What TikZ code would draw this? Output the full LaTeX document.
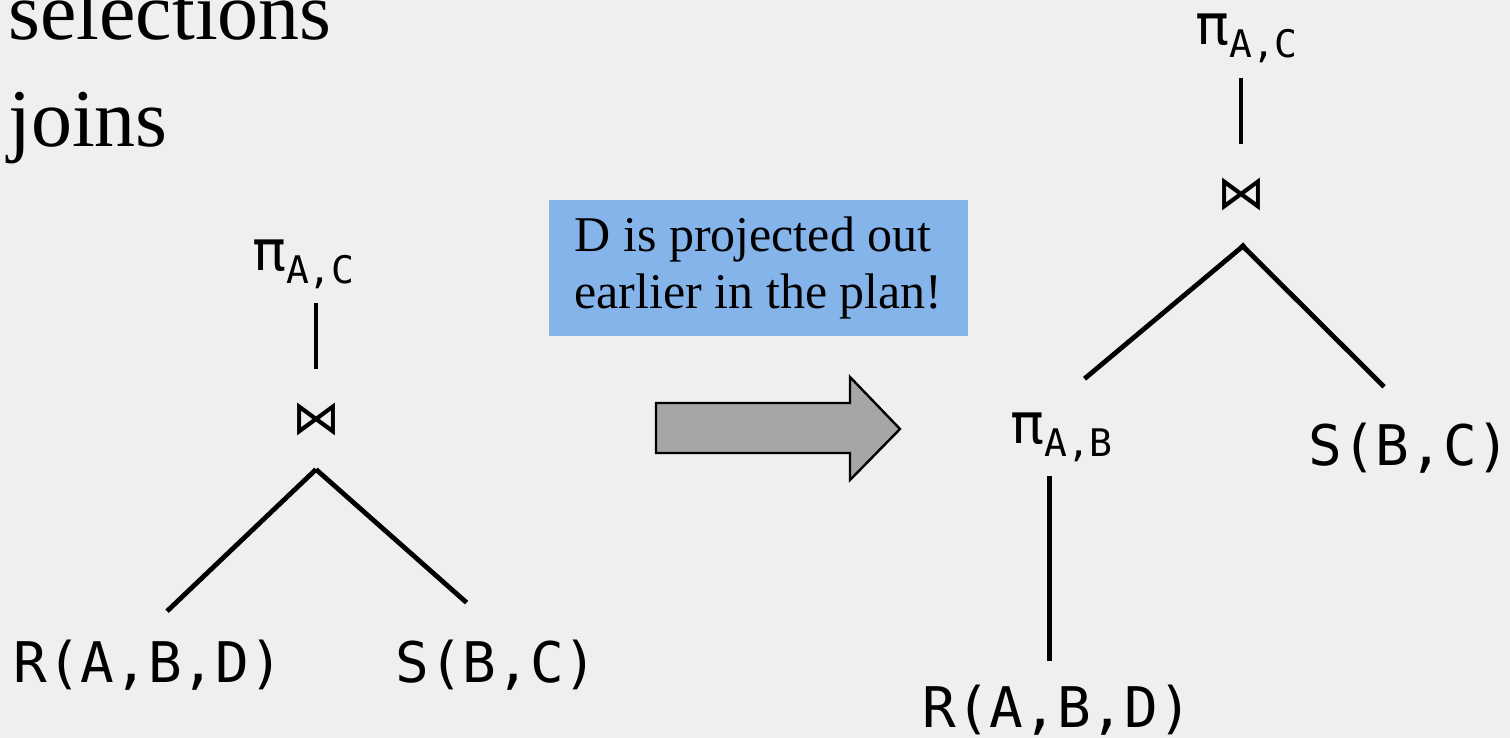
\documentclass[tikz,border=0pt]{standalone}
\usepackage{fontspec}
\setmainfont{Liberation Serif}
\setmonofont{DejaVu Sans Mono}
\newfontfamily\joinfont{DejaVu Sans}
\usetikzlibrary{positioning}
\definecolor{slidebg}{RGB}{239,239,239}
\definecolor{noteblue}{RGB}{133,180,235}
\definecolor{arrowgray}{RGB}{166,166,166}
\newcommand{\proj}[1]{\fontsize{28}{30}\selectfont π\raisebox{-6.5pt}{\fontsize{19}{20}\selectfont #1}}

\begin{document}
\begin{tikzpicture}[x=0.5pt, y=-0.5pt,
  rel/.style={font=\ttfamily\fontsize{28}{30}\selectfont, inner xsep=0pt, inner ysep=5pt},
  op/.style={font=\ttfamily, inner xsep=0pt, inner ysep=7pt},
  joinop/.style={font=\joinfont\fontsize{24}{26}\selectfont, inner sep=0pt, minimum height=50pt},
  edge/.style={line width=2.4pt},
  note/.style={fill=noteblue, minimum width=209.5pt, minimum height=68pt,
               align=left, font=\fontsize{25}{28.5}\selectfont},
  heading/.style={font=\fontsize{41}{45}\selectfont, inner sep=0pt},
  bigarrow/.style={fill=arrowgray, draw=black, line width=1.2pt}
]
  \useasboundingbox (0,0) rectangle (1510,738);
  \clip (0,0) rectangle (1510,738);
  \fill[slidebg] (0,0) rectangle (1510,738);

  \node[heading, anchor=base west] (sel)   at (8,40)  {selections};
  \node[heading, anchor=base west] (joins) at (8,147) {joins};

  % plan before the rewrite
  \node[op, anchor=base west] (pac1) at (252,270) {\proj{A,C}};
  \node[joinop] (join1) at (316,419) {⋈};
  \node[rel, anchor=base west] (r1) at (13,682)  {R(A,B,D)};
  \node[rel, anchor=base west] (s1) at (395,682) {S(B,C)};
  \draw[edge] (join1.north) -- (join1.north |- pac1.south);
  \draw[edge, shorten >=13pt] (join1.south) -- (r1.north);
  \draw[edge, shorten >=20pt] (join1.south) -- (s1.north);

  \node[note] (note) at (758.5,268) {D is projected out\\earlier in the plan!};
  \draw[bigarrow] (656,403) -- (850,403) -- (850,377) -- (900,429)
    -- (850,480) -- (850,453) -- (656,453) -- cycle;

  % plan after the rewrite
  \node[op, anchor=base west] (pac2) at (1195,45) {\proj{A,C}};
  \node[joinop] (join2) at (1241,194) {⋈};
  \node[op, anchor=base west] (pab) at (1010,443) {\proj{A,B}};
  \node[rel, anchor=base west] (s2) at (1308,465) {S(B,C)};
  \node[rel, anchor=base west] (r2) at (922,727)  {R(A,B,D)};
  \draw[edge] (join2.north) -- (join2.north |- pac2.south);
  \draw[edge, shorten >=15pt] ([xshift=2pt]join2.south) -- (pab.north);
  \draw[edge, shorten >=18pt] (join2.south) -- (s2.north);
  \draw[edge, shorten >=6.5pt] ([xshift=-6pt]pab.south) -- ([xshift=-6pt]pab.south |- r2.north);
\end{tikzpicture}
\end{document}
